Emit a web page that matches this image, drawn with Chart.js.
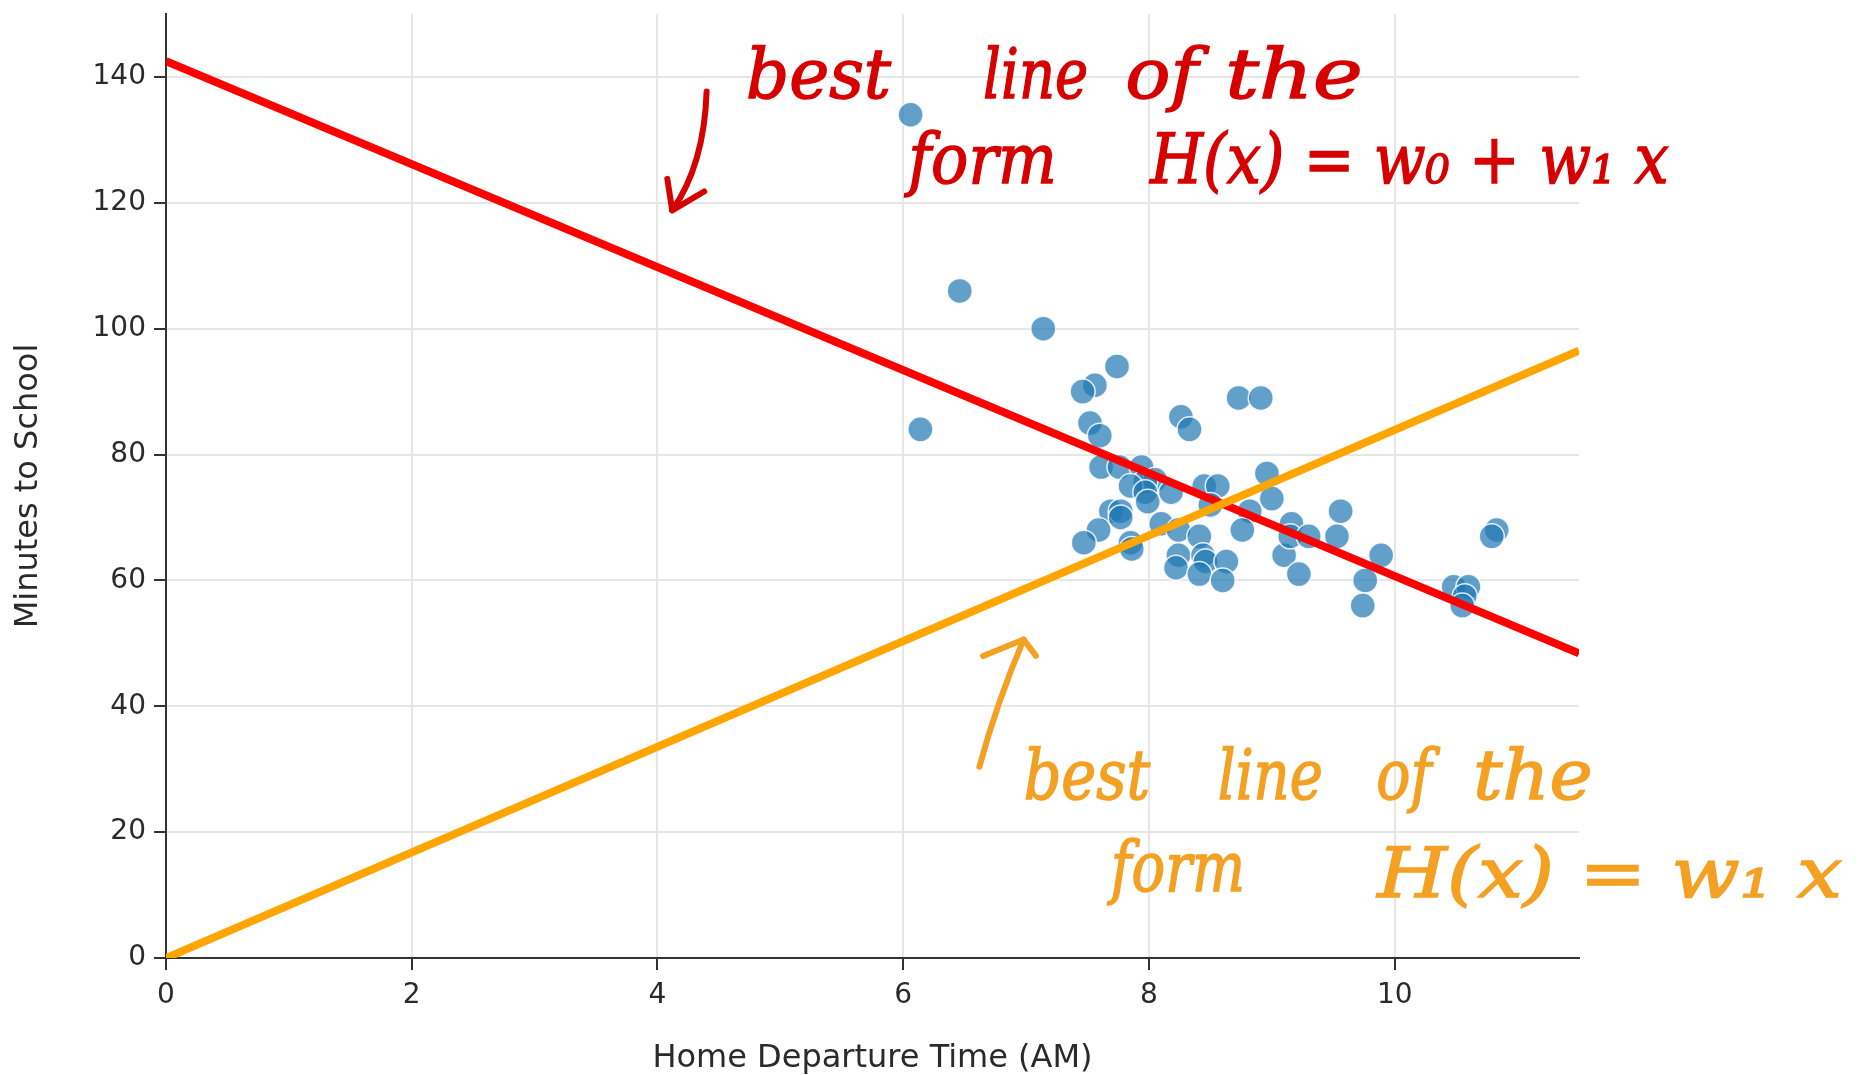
<!DOCTYPE html>
<html>
<head>
<meta charset="utf-8">
<script src="https://cdn.jsdelivr.net/npm/chart.js@4/dist/chart.umd.min.js"></script>
<style>
  html, body { margin: 0; padding: 0; background: #fff; }
  #wrap { width: 1861px; height: 1075px; position: relative; }
</style>
</head>
<body>
<div id="wrap"><canvas id="scatter-chart"></canvas></div>
<script>
// departure time (hours, AM) and minutes to school
const departTime = [
  6.06, 6.46, 7.14, 6.14, 7.74, 7.56, 7.46, 7.52, 7.60, 7.61,
  8.26, 8.33, 8.73, 8.91, 7.76, 7.94, 8.05, 7.97, 7.85, 7.97,
  7.99, 8.18, 8.45, 8.56, 8.50, 8.96, 9.00, 8.82, 8.76, 7.69,
  7.77, 7.77, 7.59, 7.47, 7.85, 7.86, 8.10, 8.24, 8.41, 8.24,
  8.22, 8.44, 8.46, 8.63, 8.41, 8.60, 9.16, 9.10, 9.22, 9.15,
  9.30, 9.56, 9.53, 9.89, 9.76, 9.74, 10.83, 10.79, 10.48, 10.60,
  10.57, 10.55
];
const minutes = [
  134, 106, 100, 84, 94, 91, 90, 85, 83, 78,
  86, 84, 89, 89, 78, 78, 76, 75.7, 75, 74,
  72.5, 74, 75, 75, 72, 77, 73, 71, 68, 71,
  71, 70, 68, 66, 66, 65, 69, 68, 67, 64,
  62, 64, 63, 63, 61, 60, 69, 64, 61, 67,
  67, 71, 67, 64, 60, 56, 68, 67, 59, 59,
  57.5, 56
];

// the two fitted lines, end points
const fullFitX = [0, 11.5];
const fullFitY = [142.5, 48.4];   // H(x) = w0 + w1 x
const slopeFitX = [0, 11.5];
const slopeFitY = [0, 96.5];      // H(x) = w1 x

const xTicks = [0, 2, 4, 6, 8, 10];
const yTicks = [0, 20, 40, 60, 80, 100, 120, 140];

const redInk = '#d70000';
const orangeInk = '#f4a023';

// handwritten notes: text, x start, x end, baseline y (data units)
const redNotes = [
  ['best', 4.72, 5.90, 136.6],
  ['line', 6.65, 7.45, 136.6],
  ['of', 7.81, 8.40, 136.6],
  ['the', 8.62, 9.77, 136.6],
  ['form', 6.04, 7.25, 123.1],
  ['H(x) = w\u2080 + w\u2081 x', 8.01, 12.23, 123.1],
];
const orangeNotes = [
  ['best', 6.98, 8.01, 25.3],
  ['line', 8.56, 9.40, 25.3],
  ['of', 9.85, 10.30, 25.3],
  ['the', 10.64, 11.61, 25.3],
  ['form', 7.69, 8.75, 10.7],
  ['H(x) = w\u2081 x', 9.86, 13.64, 9.7],
];
// arrows: start, control, tip, head end 1, head end 2
const redArrow = [[4.40, 137.7], [4.38, 126.0], [4.12, 118.8], [4.08, 123.8], [4.38, 121.8]];
const orangeArrow = [[6.62, 30.4], [6.76, 40.5], [6.98, 50.6], [6.65, 48.0], [7.08, 48.0]];

const toPoints = (xs, ys) => xs.map((x, i) => ({ x: x, y: ys[i] }));

const notesPlugin = {
  id: 'notes',
  afterDatasetsDraw(chart) {
    const { ctx, scales } = chart;
    const px = v => scales.x.getPixelForValue(v);
    const py = v => scales.y.getPixelForValue(v);

    function words(list, color) {
      ctx.save();
      ctx.fillStyle = color;
      ctx.strokeStyle = color;
      ctx.lineWidth = 1.5;
      ctx.font = 'italic 70px "DejaVu Serif"';
      ctx.textBaseline = 'alphabetic';
      list.forEach(([text, x0, x1, y]) => {
        const w = ctx.measureText(text).width;
        const k = Math.min(1.2, Math.max(0.8, (px(x1) - px(x0)) / w));
        ctx.save();
        ctx.translate(px(x0), py(y));
        ctx.scale(k, 1);
        ctx.fillText(text, 0, 0);
        ctx.strokeText(text, 0, 0);
        ctx.restore();
      });
      ctx.restore();
    }

    function arrow(a, color) {
      ctx.save();
      ctx.strokeStyle = color;
      ctx.lineWidth = 6;
      ctx.lineCap = 'round';
      ctx.lineJoin = 'round';
      ctx.beginPath();
      ctx.moveTo(px(a[0][0]), py(a[0][1]));
      ctx.quadraticCurveTo(px(a[1][0]), py(a[1][1]), px(a[2][0]), py(a[2][1]));
      ctx.stroke();
      ctx.beginPath();
      ctx.moveTo(px(a[3][0]), py(a[3][1]));
      ctx.lineTo(px(a[2][0]), py(a[2][1]));
      ctx.lineTo(px(a[4][0]), py(a[4][1]));
      ctx.stroke();
      ctx.restore();
    }

    words(redNotes, redInk);
    arrow(redArrow, redInk);
    words(orangeNotes, orangeInk);
    arrow(orangeArrow, orangeInk);
  },
};

const axisFont = { family: '"DejaVu Sans"', size: 28 };
const titleFont = { family: '"DejaVu Sans"', size: 32, lineHeight: 1 };

new Chart(document.getElementById('scatter-chart'), {
  type: 'scatter',
  data: {
    datasets: [
      {
        label: 'data',
        data: toPoints(departTime, minutes),
        pointRadius: 12.5,
        pointHoverRadius: 12.5,
        backgroundColor: 'rgba(31,119,180,0.7)',
        borderColor: 'rgba(255,255,255,0.85)',
        borderWidth: 1.5,
        order: 3,
      },
      {
        label: 'H(x) = w0 + w1 x',
        type: 'line',
        data: toPoints(fullFitX, fullFitY),
        borderColor: '#ff0000',
        borderWidth: 8,
        pointRadius: 0,
        order: 2,
      },
      {
        label: 'H(x) = w1 x',
        type: 'line',
        data: toPoints(slopeFitX, slopeFitY),
        borderColor: '#ffa500',
        borderWidth: 8,
        pointRadius: 0,
        order: 1,
      },
    ],
  },
  options: {
    responsive: true,
    maintainAspectRatio: false,
    animation: false,
    devicePixelRatio: 1,
    layout: { padding: { left: 0, right: 282, top: 10, bottom: 0 } },
    plugins: {
      legend: { display: false },
      tooltip: { enabled: false },
    },
    scales: {
      x: {
        type: 'linear',
        min: 0,
        max: 11.5,
        afterBuildTicks: s => { s.ticks = xTicks.map(v => ({ value: v })); },
        afterFit: s => { s.height = 117; s.paddingLeft = 0; s.paddingRight = 0; },
        ticks: { font: axisFont, color: '#2a2a2a', padding: 9, maxRotation: 0 },
        grid: { color: '#e6e6e6', lineWidth: 2, tickLength: 12, tickColor: '#333', tickWidth: 2 },
        border: { color: '#333', width: 2 },
        title: { display: true, text: 'Home Departure Time (AM)', font: titleFont, color: '#2a2a2a', padding: 0 },
      },
      y: {
        type: 'linear',
        min: 0,
        max: 150,
        afterBuildTicks: s => { s.ticks = yTicks.map(v => ({ value: v })); },
        afterFit: s => { s.width = 166; s.paddingTop = 0; s.paddingBottom = 0; },
        ticks: { font: axisFont, color: '#2a2a2a', padding: 8 },
        grid: { color: '#e6e6e6', lineWidth: 2, tickLength: 12, tickColor: '#333', tickWidth: 2 },
        border: { color: '#333', width: 2 },
        title: { display: true, text: 'Minutes to School', font: titleFont, color: '#2a2a2a', padding: { top: 13, bottom: 0 } },
      },
    },
  },
  plugins: [notesPlugin],
});
</script>
</body>
</html>
